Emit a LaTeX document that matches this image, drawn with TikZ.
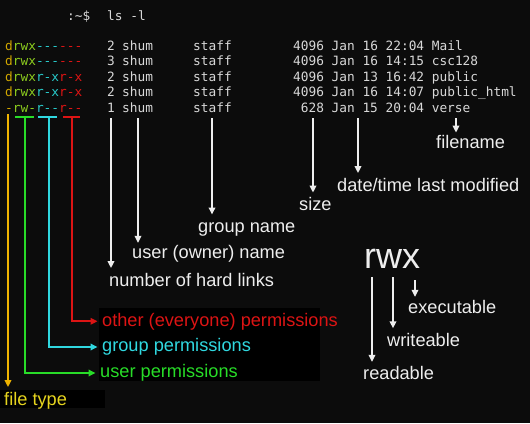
\documentclass[tikz,border=0pt]{standalone}
\usepackage{fontspec}
\setmainfont{Liberation Sans}
\setmonofont{DejaVu Sans Mono}
\usetikzlibrary{arrows.meta}
\definecolor{bg}{HTML}{0C0C0C}
\definecolor{termgray}{HTML}{D8D8D8}
\definecolor{labwhite}{HTML}{EEEEEE}
\definecolor{ptype}{HTML}{D2A800}
\definecolor{puser}{HTML}{8CCC1E}
\definecolor{pgroup}{HTML}{28C8C8}
\definecolor{pother}{HTML}{DC1414}
\definecolor{lyellow}{HTML}{F0B400}
\definecolor{lgreen}{HTML}{28DC28}
\definecolor{lcyan}{HTML}{30D8E0}
\definecolor{ftcol}{HTML}{E6D41E}
\begin{document}
\begin{tikzpicture}[x=1pt,y=-1pt,
  term/.style={font=\ttfamily\fontsize{12.8}{14}\selectfont, text=termgray, inner sep=0pt, anchor=base west},
  lab/.style={font=\fontsize{18.2}{20}\selectfont, text=labwhite, inner sep=0pt, anchor=base west},
  arr/.style={line width=1.8pt, -{Triangle[length=7pt,width=6.5pt]}},
  wline/.style={arr, draw=labwhite},
  bar/.style={line width=2.4pt}]
\useasboundingbox[fill=bg] (0,0) rectangle (530,423);

% dark panels behind labels
\fill[black] (99,308) rectangle (320,381);
\fill[black] (0,390) rectangle (105,408);

% prompt
\node[term] (prompt) at (67,20) {:\textasciitilde\$};
\node[term] (cmd) at (107,20) {ls -l};

% listing
\newcommand\perm[4]{\textcolor{ptype}{#1}\textcolor{puser}{#2}\textcolor{pgroup}{#3}\textcolor{pother}{#4}}
\node[term] (p1) at (5,50) {\perm{d}{rwx}{---}{---}};
\node[term] (n1) at (107,50) {2};
\node[term] (u1) at (122,50) {shum};
\node[term] (g1) at (193,50) {staff};
\node[term] (r1) at (293,50) {4096 Jan 16 22:04 Mail};

\node[term] (p2) at (5,65.5) {\perm{d}{rwx}{---}{---}};
\node[term] (n2) at (107,65.5) {3};
\node[term] (u2) at (122,65.5) {shum};
\node[term] (g2) at (193,65.5) {staff};
\node[term] (r2) at (293,65.5) {4096 Jan 16 14:15 csc128};

\node[term] (p3) at (5,81) {\perm{d}{rwx}{r-x}{r-x}};
\node[term] (n3) at (107,81) {2};
\node[term] (u3) at (122,81) {shum};
\node[term] (g3) at (193,81) {staff};
\node[term] (r3) at (293,81) {4096 Jan 13 16:42 public};

\node[term] (p4) at (5,96.5) {\perm{d}{rwx}{r-x}{r-x}};
\node[term] (n4) at (107,96.5) {2};
\node[term] (u4) at (122,96.5) {shum};
\node[term] (g4) at (193,96.5) {staff};
\node[term] (r4) at (293,96.5) {4096 Jan 16 14:07 public\_html};

\node[term] (p5) at (5,112) {\perm{-}{rw-}{r--}{r--}};
\node[term] (n5) at (107,112) {1};
\node[term] (u5) at (122,112) {shum};
\node[term] (g5) at (193,112) {staff};
\node[term] (s5) at (300.7,112) {628};
\node[term] (d5) at (331.5,112) {Jan 15 20:04};
\node[term] (f5) at (431.6,112) {verse};

% labels
\node[lab] (fname) at (436,148) {filename};
\node[lab] (dtime) at (337,191) {date/time last modified};
\node[lab] (size) at (299,210) {size};
\node[lab] (gname) at (198,232) {group name};
\node[lab] (uname) at (132,258) {user (owner) name};
\node[lab] (hlinks) at (109,286) {number of hard links};
\node[lab, text=pother] (oth) at (102,326) {other (everyone) permissions};
\node[lab, text=lcyan] (grp) at (102,351.7) {group permissions};
\node[lab, text=lgreen] (usr) at (100,377.7) {user permissions};
\node[lab, text=ftcol] (ftype) at (4,405) {file type};

\node[font=\fontsize{36}{40}\selectfont, text=labwhite, inner sep=0pt, anchor=base west] (rwx) at (364,268) {rwx};
\node[lab] (exe) at (408,313.3) {executable};
\node[lab] (wri) at (387,346.7) {writeable};
\node[lab] (rea) at (363,379.3) {readable};

% white connectors from the last listing row
\coordinate (hlA) at (111,118);
\draw[wline, shorten >=4.5pt] (hlA) -- (hlA |- hlinks.north);
\coordinate (unA) at (138,118);
\draw[wline, shorten >=1.7pt] (unA) -- (unA |- uname.north);
\coordinate (gnA) at (212,118);
\draw[wline, shorten >=7.5pt] (gnA) -- (gnA |- gname.north);
\coordinate (szA) at (313,118);
\draw[wline, shorten >=4pt] (szA) -- (szA |- size.north);
\coordinate (dtA) at (358,118);
\draw[wline, shorten >=4.5pt] (dtA) -- (dtA |- dtime.north);
\coordinate (fnA) at (456,118);
\draw[wline, shorten >=2pt] (fnA) -- (fnA |- fname.north);

% rwx connectors
\coordinate (rA) at (372,277);
\draw[wline, shorten >=4pt] (rA) -- (rA |- rea.north);
\coordinate (wA) at (393,277);
\draw[wline, shorten >=5pt] (wA) -- (wA |- wri.north);
\coordinate (xA) at (415,280);
\draw[wline, shorten >=3pt] (xA) -- (xA |- exe.north);

% permission group markers
\coordinate (yA) at (8,114);
\draw[arr, draw=lyellow, shorten >=4.5pt] (yA) -- (yA |- ftype.north);

\coordinate (gL) at (15,117); \coordinate (gR) at (34,117); \coordinate (gA) at (25,117);
\draw[bar, draw=lgreen] (gL) -- (gR);
\draw[arr, draw=lgreen, shorten >=4.5pt] (gA) |- (usr.west);

\coordinate (cL) at (38,117); \coordinate (cR) at (57,117); \coordinate (cA) at (49,117);
\draw[bar, draw=lcyan] (cL) -- (cR);
\draw[arr, draw=lcyan, shorten >=4.5pt] (cA) |- (grp.west);

\coordinate (oL) at (63,117); \coordinate (oR) at (80,117); \coordinate (oA) at (72,117);
\draw[bar, draw=pother] (oL) -- (oR);
\draw[arr, draw=pother, shorten >=4.5pt] (oA) |- (oth.west);
\end{tikzpicture}
\end{document}
